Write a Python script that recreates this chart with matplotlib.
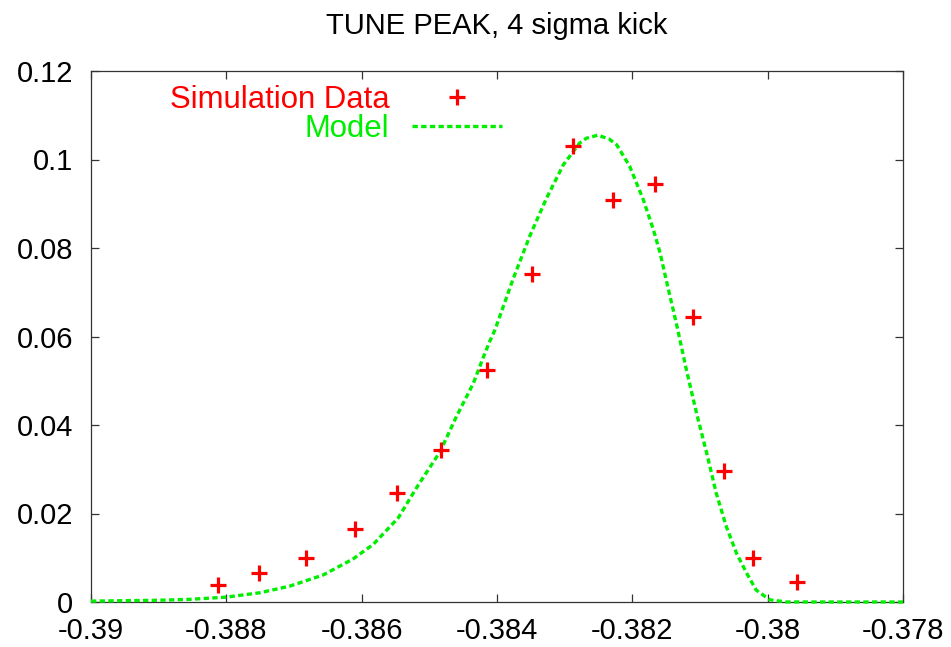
import matplotlib
matplotlib.use("Agg")
import matplotlib.pyplot as plt

plt.rcParams['font.family'] = ['Liberation Sans', 'DejaVu Sans']
plt.rcParams['axes.unicode_minus'] = False

title = "TUNE PEAK, 4 sigma kick"

sim_x = [-0.38812, -0.38752, -0.38682, -0.38610, -0.38548, -0.38483, -0.38415,
         -0.38349, -0.38288, -0.38229, -0.38167, -0.38110, -0.38064, -0.38022, -0.37957]
sim_y = [0.0038, 0.0066, 0.0099, 0.0166, 0.0247, 0.0343, 0.0524,
         0.0741, 0.1031, 0.0908, 0.0944, 0.0644, 0.0297, 0.0099, 0.0045]

model_x = [-0.39000, -0.38898, -0.38854, -0.38800, -0.38750, -0.38706, -0.38657,
           -0.38613, -0.38583, -0.38546, -0.38519, -0.38484, -0.38460, -0.38435,
           -0.38420, -0.38411, -0.38403, -0.38376, -0.38351, -0.38327, -0.38302,
           -0.38278, -0.38268, -0.38251, -0.38234, -0.38223, -0.38204, -0.38184,
           -0.38169, -0.38159, -0.38150, -0.38135, -0.38120, -0.38105, -0.38090,
           -0.38076, -0.38061, -0.38046, -0.38031, -0.38017, -0.37997, -0.37972,
           -0.37800]
model_y = [0.0002, 0.0004, 0.0006, 0.0011, 0.0021, 0.0036, 0.0061,
           0.0097, 0.0130, 0.0190, 0.0258, 0.0340, 0.0419, 0.0494,
           0.0554, 0.0588, 0.0615, 0.0731, 0.0829, 0.0912, 0.0988,
           0.1037, 0.1048, 0.1055, 0.1046, 0.1033, 0.0985, 0.0910,
           0.0842, 0.0789, 0.0728, 0.0630, 0.0524, 0.0426, 0.0336,
           0.0246, 0.0170, 0.0110, 0.0065, 0.0027, 0.0005, 0.0,
           0.0]

x_ticks = [-0.39, -0.388, -0.386, -0.384, -0.382, -0.38, -0.378]
x_tick_labels = ["-0.39", "-0.388", "-0.386", "-0.384", "-0.382", "-0.38", "-0.378"]
y_ticks = [0, 0.02, 0.04, 0.06, 0.08, 0.1, 0.12]
y_tick_labels = ["0", "0.02", "0.04", "0.06", "0.08", "0.1", "0.12"]

fig = plt.figure(figsize=(9.51, 6.47), dpi=100)
ax = fig.add_axes([91/951, 1 - 602/647, (903 - 91)/951, (602 - 71)/647])

ax.plot(sim_x, sim_y, linestyle='none', marker='+', color='#ff0000',
        markersize=11.5, markeredgewidth=2.3, label='Simulation Data', zorder=4)
ax.plot(model_x, model_y, color='#00ee00', linewidth=2.4,
        linestyle=(0, (1.6, 1.0)), label='Model', zorder=3, clip_on=False)

ax.set_xlim(-0.39, -0.378)
ax.set_ylim(0, 0.12)
ax.set_xticks(x_ticks)
ax.set_xticklabels(x_tick_labels)
ax.set_yticks(y_ticks)
ax.set_yticklabels(y_tick_labels)

ax.tick_params(direction='in', length=6, width=0.9, colors='#333333',
               labelcolor='black', labelsize=21, top=True, right=True)
ax.tick_params(axis='x', pad=11)
ax.tick_params(axis='y', pad=13)
for s in ax.spines.values():
    s.set_linewidth(0.9)
    s.set_color('#333333')

ax.set_title(title, fontsize=21, pad=27)

leg = ax.legend(loc='upper right', bbox_to_anchor=(0.506, 0.974),
                frameon=False, markerfirst=False, fontsize=22.4,
                handlelength=2.9, handletextpad=0.71, borderpad=0,
                borderaxespad=0, labelspacing=-0.03)
for t, c in zip(leg.get_texts(), ['#ff0000', '#00ee00']):
    t.set_color(c)

fig.savefig('out.png', dpi=100)
